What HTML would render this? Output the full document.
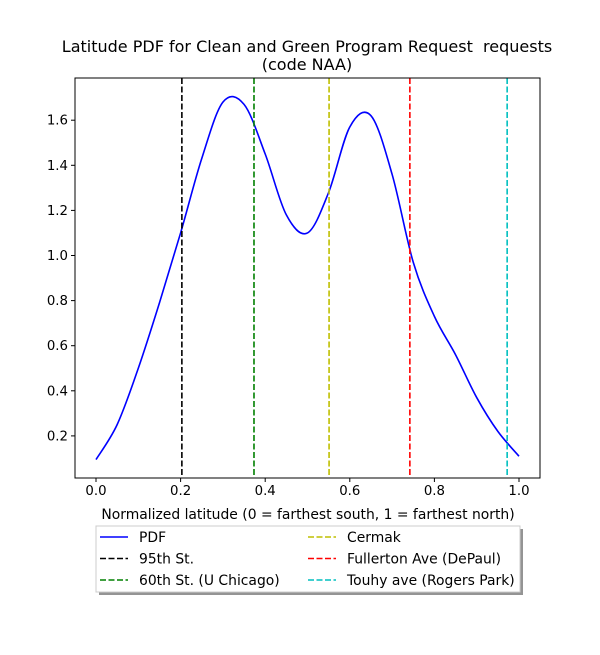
<!DOCTYPE html>
<html><head><meta charset="utf-8"><style>
body{margin:0;background:#fff}
svg text{font-family:"DejaVu Sans","Liberation Sans",sans-serif;fill:#000;white-space:pre}
</style></head><body>
<svg id="chart" width="600" height="650" xmlns="http://www.w3.org/2000/svg">
<rect width="600" height="650" fill="#fff"/>
<text x="307" y="52" font-size="16" text-anchor="middle">Latitude PDF for Clean and Green Program Request&#160; requests</text>
<text x="307" y="70" font-size="16" text-anchor="middle">(code NAA)</text>
<g id="plot"></g>
<text x="308" y="519" font-size="13.9" text-anchor="middle">Normalized latitude (0 = farthest south, 1 = farthest north)</text>
<g>
<rect x="99" y="529" width="424" height="66" fill="#888" opacity="0.9"/>
<rect x="96" y="526" width="424" height="66" fill="#fff" stroke="#ccc" stroke-width="1"/>
<g id="legend-items"></g>
</g>
</svg>
<script>
const xs=[0,0.05,0.1,0.15,0.2,0.25,0.3,0.35,0.4,0.45,0.5,0.55,0.6,0.65,0.7,0.75,0.8,0.85,0.9,0.95,1.0];
const pdf=[0.095,0.25,0.5,0.79,1.1,1.43,1.68,1.67,1.45,1.18,1.10,1.28,1.57,1.62,1.36,0.97,0.73,0.56,0.37,0.22,0.11];
const markerNames=["95th St.","60th St. (U Chicago)","Cermak","Fullerton Ave (DePaul)","Touhy ave (Rogers Park)"];
const markerVals=[0.203,0.3735,0.551,0.742,0.972];
const markerColors=["#000","#008000","#bfbf00","#ff0000","#00bfbf"];
const xTicks=[0,0.2,0.4,0.6,0.8,1.0];
const xTickLabels=["0.0","0.2","0.4","0.6","0.8","1.0"];
const yTicks=[0.2,0.4,0.6,0.8,1.0,1.2,1.4,1.6];
const yTickLabels=["0.2","0.4","0.6","0.8","1.0","1.2","1.4","1.6"];
const L=75,R=540,T=78,B=478;
const X=v=>96+v*423, Y=v=>481+-v*225.5;
const NS="http://www.w3.org/2000/svg";
const g=document.getElementById('plot');
function mk(t,a,p){const e=document.createElementNS(NS,t);for(const k in a)e.setAttribute(k,a[k]);(p||g).appendChild(e);return e;}
const pts=xs.map((x,i)=>[X(x),Y(pdf[i])]);
let d=`M${pts[0][0]},${pts[0][1]}`;
for(let i=0;i<pts.length-1;i++){const p0=pts[i-1]||pts[i],p1=pts[i],p2=pts[i+1],p3=pts[i+2]||p2;
d+=` C${p1[0]+(p2[0]-p0[0])/6},${p1[1]+(p2[1]-p0[1])/6} ${p2[0]-(p3[0]-p1[0])/6},${p2[1]-(p3[1]-p1[1])/6} ${p2[0]},${p2[1]}`;}
const c=mk('path',{d,fill:'none',stroke:'#0000ff','stroke-width':1.6});


markerVals.forEach((v,i)=>{const l=mk('line',{x1:X(v),x2:X(v),y1:T,y2:B,stroke:markerColors[i],'stroke-width':1.6,'stroke-dasharray':'6,2.5'});

});
const f=mk('rect',{x:L,y:T,width:R-L,height:B-T,fill:'none',stroke:'#000','stroke-width':1});


xTicks.forEach((v,i)=>{mk('line',{x1:X(v),x2:X(v),y1:B,y2:B+4,stroke:'#000'});
const t=mk('text',{x:X(v),y:B+17,'font-size':13.3,'text-anchor':'middle'});t.textContent=xTickLabels[i];

});
yTicks.forEach((v,i)=>{mk('line',{x1:L-4,x2:L,y1:Y(v),y2:Y(v),stroke:'#000'});
const t=mk('text',{x:L-7,y:Y(v)+4.5,'font-size':13.3,'text-anchor':'end'});t.textContent=yTickLabels[i];

});
const lg=document.getElementById('legend-items');
const items=[["PDF","#0000ff",false]].concat(markerNames.map((n,i)=>[n,markerColors[i],true]));
items.forEach((it,i)=>{const col=i<3?0:1,row=i%3;const x0=col?308:100,y0=537+row*21.5;
mk('line',{x1:x0,x2:x0+28,y1:y0,y2:y0,stroke:it[1],'stroke-width':1.6,'stroke-dasharray':it[2]?'6,2.5':'none'},lg);
const t=mk('text',{x:x0+39,y:y0+5,'font-size':13.9},lg);t.textContent=it[0];

});
</script>
</body></html>
